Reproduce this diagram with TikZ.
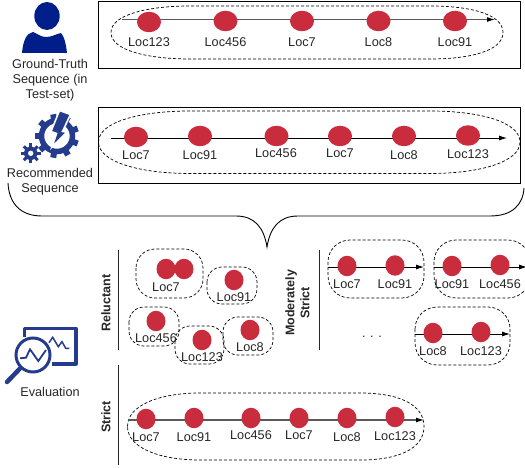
\documentclass[tikz,border=0pt]{standalone}
\usepackage{fontspec}
\setmainfont{Liberation Sans}
\usetikzlibrary{arrows.meta,shapes.geometric}
\definecolor{stopred}{HTML}{C92C3C}
\definecolor{navyicon}{HTML}{001E8A}
\definecolor{blueicon}{HTML}{253C8C}

\begin{document}
\begin{tikzpicture}[x=1pt,y=-1pt,
    every node/.style={font=\fontsize{12.7}{15}\selectfont,text=black!85,inner sep=0pt},
    stopnode/.style={ellipse,fill=stopred,minimum width=24pt,minimum height=20.5pt},
    dotnode/.style={ellipse,fill=stopred,minimum width=19pt,minimum height=20.5pt},
    seqline/.style={line width=0.8pt,-{Latex[length=8pt,width=5pt]}},
    greyline/.style={line width=1.1pt,black!65,-{Latex[length=8pt,width=5pt,black]}},
    hull/.style={densely dashed,line width=0.7pt},
    framebox/.style={line width=0.9pt},
    rule/.style={line width=1pt,black!85},
    heading/.style={rotate=90,font=\fontsize{12.5}{15}\selectfont\bfseries,align=center}]

    \useasboundingbox (0,0) rectangle (525,468);

    % the ground truth row
    \draw[framebox] (98.5,1.5) rectangle (520,68);
    \draw[hull] (111,32.5) .. controls (111,14) and (150,6) .. (190,6) -- (430,6)
        .. controls (470,6) and (503,14) .. (503,32.5)
        .. controls (503,51) and (470,59) .. (430,59) -- (190,59)
        .. controls (150,59) and (111,51) .. (111,32.5);
    \coordinate (gt0) at (122,19.5);
    \coordinate (gtend) at (495,19.5);
    \draw[greyline] (gt0) -- (gtend);
    \node[stopnode] (gt1) at (149,22) {};
    \node[stopnode] (gt2) at (225.5,21) {};
    \node[stopnode] (gt3) at (302,21) {};
    \node[stopnode] (gt4) at (378.5,21) {};
    \node[stopnode] (gt5) at (455,21) {};
    \node (gt1l) at (149,42) {Loc123};
    \node (gt2l) at (225.5,42) {Loc456};
    \node (gt3l) at (302,42) {Loc7};
    \node (gt4l) at (378.5,42) {Loc8};
    \node (gt5l) at (455,42) {Loc91};

    % the recommended row
    \draw[framebox] (98.5,107) rectangle (520,183);
    \draw[hull] (98.5,142) .. controls (98.5,122) and (140,111) .. (190,111) -- (430,111)
        .. controls (480,111) and (520,122) .. (520,142)
        .. controls (520,162) and (480,173.5) .. (430,173.5) -- (190,173.5)
        .. controls (140,173.5) and (98.5,162) .. (98.5,142);
    \coordinate (rec0) at (111,138);
    \coordinate (recend) at (507,138);
    \draw[seqline] (rec0) -- (recend);
    \node[stopnode] (rec1) at (136,137) {};
    \node[stopnode] (rec2) at (200,136) {};
    \node[stopnode] (rec3) at (276.5,136) {};
    \node[stopnode] (rec4) at (340,136) {};
    \node[stopnode] (rec5) at (404,136) {};
    \node[stopnode] (rec6) at (468,135.5) {};
    \node (rec1l) at (136,155) {Loc7};
    \node (rec2l) at (200,155) {Loc91};
    \node (rec3l) at (276,153.5) {Loc456};
    \node (rec4l) at (340,153.5) {Loc7};
    \node (rec5l) at (404,155) {Loc8};
    \node (rec6l) at (468,154) {Loc123};

    % the brace
    \draw[line width=0.9pt] (8,183) .. controls (9,203) and (20,216) .. (42,216) -- (236,216)
        .. controls (255,216) and (264,228) .. (267,247)
        .. controls (270,228) and (279,216) .. (298,216) -- (490,216)
        .. controls (512,216) and (523,205) .. (524,188);

    % the side texts
    \node[align=center] (gtname) at (50,80.5) {Ground-Truth\\Sequence (in\\Test-set)};
    \node[align=center] (recname) at (50,181.5) {Recommended\\Sequence};
    \node (evalname) at (50,392) {Evaluation};

    % the person
    \fill[navyicon] (47,16) ellipse (12.7 and 14);
    \fill[navyicon] (22,53) .. controls (23,42) and (26,33) .. (33,32)
        .. controls (38,34) and (41,37) .. (46,37)
        .. controls (52,37) and (56,34) .. (61,33)
        .. controls (64,36) and (66,44) .. (67,53) -- cycle;

    % the gears
    \draw[blueicon,line width=5.5pt] (57,136) circle (15.5);
    \foreach \a in {0,40,...,320}
        \draw[blueicon,line width=6pt] (57,136) ++(\a+20:16) -- ++(\a+20:6);
    \draw[white,fill=blueicon,line width=1.6pt] (59.5,110.5) -- (70.5,114.5) -- (62.5,131.5) -- (67,132)
        -- (52,147) -- (56.5,133.5) -- (51,131.5) -- cycle;
    \draw[blueicon,line width=4pt] (30.7,153.3) circle (5);
    \foreach \a in {0,45,...,315}
        \draw[blueicon,line width=3pt] (30.7,153.3) ++(\a:5) -- ++(\a:4.8);

    % the evaluation chart
    \draw[blueicon,line width=3.3pt,line join=round] (24.5,337) -- (24.5,328.5) -- (76,328.5)
        -- (76,364) -- (52,364);
    \draw[blueicon,line width=3pt] (33,355) circle (17);
    \draw[blueicon,line width=4.5pt,line cap=round] (20,368.5) -- (7,382);
    \draw[blueicon,line width=1.8pt] (20,358.3) -- (26,357.7) -- (30,349.3) -- (38.3,361) -- (46,350);
    \draw[blueicon,line width=1.5pt] (49,342.7) -- (52.7,337.3) -- (58.3,346.7) -- (62,341.7)
        -- (65.7,348.3) -- (69.3,348.3);

    % the rules and their headings
    \draw[rule] (118,250) -- (118,350);
    \draw[rule] (118,365) -- (118,465);
    \draw[rule] (319,250) -- (319,350);
    \node[heading] (reluctant) at (106,303) {Reluctant};
    \node[heading] (strict) at (106,417) {Strict};
    \node[heading] (moderate) at (297.5,303) {Moderately\\Strict};

    % the reluctant groups
    \draw[hull,rounded corners=19pt] (136,249) rectangle (203,298);
    \draw[hull,rounded corners=15pt] (207,267) rectangle (257,304);
    \draw[hull,rounded corners=15pt] (129,307) rectangle (179,346);
    \draw[hull,rounded corners=15pt] (175,326) rectangle (224,364);
    \draw[hull,rounded corners=15pt] (223,317) rectangle (273,355);
    \node[dotnode] (rel1) at (166,269) {};
    \node[dotnode] (rel2) at (184,269) {};
    \node[dotnode] (rel3) at (234,280) {};
    \node[dotnode] (rel4) at (156,321) {};
    \node[dotnode] (rel5) at (202,340) {};
    \node[dotnode] (rel6) at (250,330) {};
    \node (rel1l) at (166,287) {Loc7};
    \node (rel3l) at (234,297) {Loc91};
    \node (rel4l) at (156,338) {Loc456};
    \node (rel5l) at (202,357) {Loc123};
    \node (rel6l) at (250,347) {Loc8};

    % the moderately strict groups
    \draw[hull,rounded corners=22pt] (328,240) rectangle (424,298);
    \draw[hull,rounded corners=22pt] (434,240) rectangle (530,298);
    \draw[hull,rounded corners=22pt] (415,307) rectangle (510,365);
    \coordinate (mod0) at (328,267);
    \coordinate (modend) at (424,267);
    \coordinate (mid0) at (434,267);
    \coordinate (midend) at (527,267);
    \coordinate (low0) at (415,334);
    \coordinate (lowend) at (510,334);
    \draw[seqline] (mod0) -- (modend);
    \draw[seqline] (mid0) -- (midend);
    \draw[seqline] (low0) -- (lowend);
    \node[dotnode] (mod1) at (347,266) {};
    \node[dotnode] (mod2) at (395,265.5) {};
    \node[dotnode] (mid1) at (452,266) {};
    \node[dotnode] (mid2) at (500,265) {};
    \node[dotnode] (low1) at (433,333) {};
    \node[dotnode] (low2) at (481,332) {};
    \node (mod1l) at (347,284) {Loc7};
    \node (mod2l) at (395,284) {Loc91};
    \node (mid1l) at (452,284) {Loc91};
    \node (mid2l) at (500,284) {Loc456};
    \node (low1l) at (433,351) {Loc8};
    \node (low2l) at (481,351) {Loc123};
    \node (dots) at (372,337) {. . .};

    % the strict row
    \draw[hull] (127.5,426.5) .. controls (127.5,405) and (160,393) .. (200,393) -- (360,393)
        .. controls (400,393) and (424,405) .. (424,426.5)
        .. controls (424,448) and (400,460) .. (360,460) -- (200,460)
        .. controls (160,460) and (127.5,448) .. (127.5,426.5);
    \coordinate (str0) at (127.5,420);
    \coordinate (strend) at (424,420);
    \draw[greyline] (str0) -- (strend);
    \node[dotnode] (str1) at (146,419) {};
    \node[dotnode] (str2) at (194,418) {};
    \node[dotnode] (str3) at (251,418) {};
    \node[dotnode] (str4) at (299,418) {};
    \node[dotnode] (str5) at (347,418) {};
    \node[dotnode] (str6) at (395,417) {};
    \node (str1l) at (146,437) {Loc7};
    \node (str2l) at (194,437) {Loc91};
    \node (str3l) at (251,435.5) {Loc456};
    \node (str4l) at (299,435.5) {Loc7};
    \node (str5l) at (347,437) {Loc8};
    \node (str6l) at (395,436) {Loc123};

\end{tikzpicture}
\end{document}
